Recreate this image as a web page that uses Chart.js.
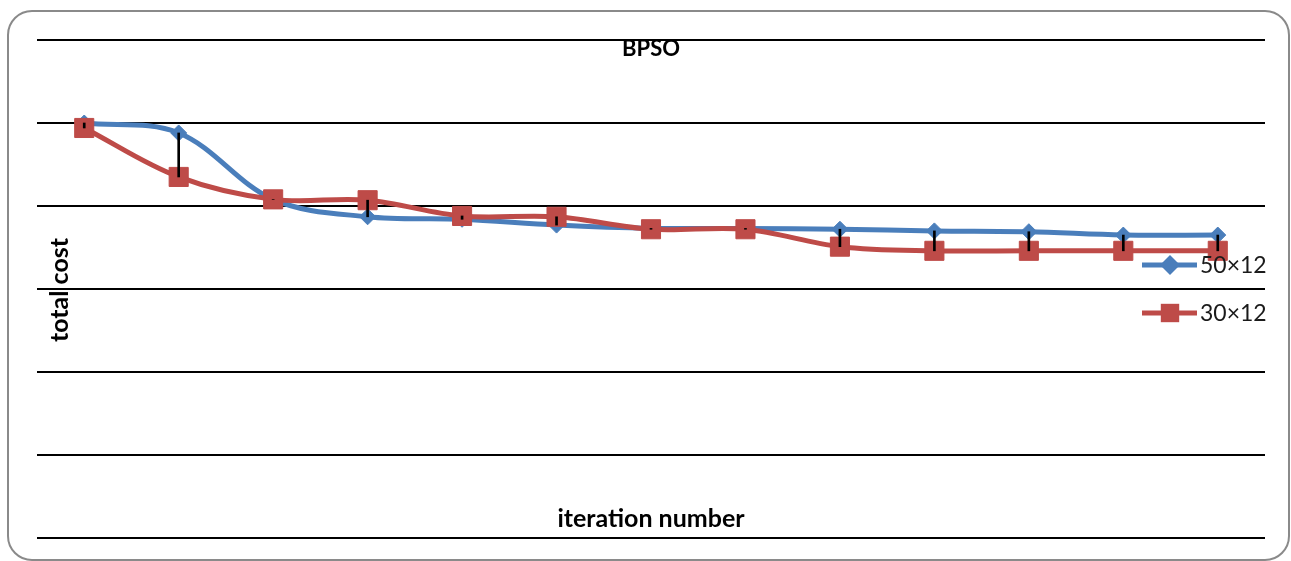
<!DOCTYPE html>
<html><head><meta charset="utf-8">
<script src="https://cdn.jsdelivr.net/npm/chart.js@4.4.0/dist/chart.umd.min.js"></script>
<style>html,body{margin:0;padding:0;background:#fff;overflow:hidden}#wrap{position:relative;width:1291px;height:561px}</style>
</head><body><div id="wrap"><canvas id="c" width="1291" height="561"></canvas></div>
<script>
const categories = ['1','2','3','4','5','6','7','8','9','10','11','12','13'];
const series50x12 = [5.00, 4.88, 4.08, 3.87, 3.84, 3.77, 3.73, 3.73, 3.72, 3.70, 3.69, 3.65, 3.65];
const series30x12 = [4.94, 4.35, 4.08, 4.07, 3.88, 3.87, 3.72, 3.72, 3.51, 3.46, 3.46, 3.46, 3.46];
const seriesNames = ['50×12', '30×12'];
const yMin = 0, yMax = 6, yStep = 1;
const chartTitle = 'BPSO';
const xTitle = 'iteration number';
const yTitle = 'total cost';

const BLUE = '#4A7EBB', RED = '#BE4B48';
const FONT = 'Lato, "Open Sans", sans-serif';

const highLow = series50x12.map((v, i) => [series30x12[i], v]);

function drawMarker(ctx, style, x, y, r, color) {
  ctx.save();
  ctx.fillStyle = color;
  ctx.beginPath();
  if (style === 'rectRot') {
    ctx.moveTo(x - r, y); ctx.lineTo(x, y - r); ctx.lineTo(x + r, y); ctx.lineTo(x, y + r);
  } else {
    const s = Math.SQRT1_2 * r;
    ctx.rect(x - s, y - s, 2 * s, 2 * s);
  }
  ctx.closePath();
  ctx.fill();
  ctx.restore();
}

const decor = {
  id: 'decor',
  beforeDraw(chart) {
    const ctx = chart.ctx;
    ctx.save();
    ctx.fillStyle = '#fff';
    ctx.fillRect(0, 0, chart.width, chart.height);
    ctx.strokeStyle = '#8a8a8a';
    ctx.lineWidth = 2;
    ctx.beginPath();
    ctx.roundRect(8, 11, 1281, 549, 24);
    ctx.stroke();
    ctx.restore();
  },
  afterDraw(chart) {
    const ctx = chart.ctx;
    const a = chart.chartArea;
    ctx.save();
    ctx.fillStyle = '#000';
    ctx.textAlign = 'center';
    ctx.textBaseline = 'alphabetic';
    ctx.font = 'bold 22px ' + FONT;
    ctx.fillText(chartTitle, 651, 56);
    ctx.font = 'bold 25px ' + FONT;
    ctx.fillText(xTitle, 651, 527);
    ctx.save();
    ctx.translate(68, 290);
    ctx.rotate(-Math.PI / 2);
    ctx.fillText(yTitle, 0, 0);
    ctx.restore();
    // legend
    const items = chart.data.datasets.filter(d => d.type === 'line');
    const ys = [265, 313];
    items.forEach((d, i) => {
      const y = ys[i];
      ctx.strokeStyle = d.borderColor;
      ctx.lineWidth = 5;
      ctx.beginPath();
      ctx.moveTo(1142, y); ctx.lineTo(1197, y);
      ctx.stroke();
      drawMarker(ctx, d.pointStyle, 1170, y, d.pointStyle === 'rectRot' ? 10 : 13, d.borderColor);
      ctx.fillStyle = '#1a1a1a';
      ctx.textAlign = 'left';
      ctx.textBaseline = 'middle';
      ctx.font = '23px ' + FONT;
      ctx.fillText(d.label, 1200, y + 1);
    });
    ctx.restore();
  }
};

new Chart(document.getElementById('c'), {
  type: 'line',
  data: {
    labels: categories,
    datasets: [
      { type: 'bar', label: 'hl', data: highLow, backgroundColor: '#000', barThickness: 2, grouped: false, order: 0 },
      { type: 'line', label: seriesNames[0], data: series50x12, borderColor: BLUE, backgroundColor: BLUE,
        borderWidth: 5, tension: 0.35, pointStyle: 'rectRot', pointRadius: 8, pointBorderWidth: 1,
        pointBackgroundColor: BLUE, pointBorderColor: BLUE, order: 2 },
      { type: 'line', label: seriesNames[1], data: series30x12, borderColor: RED, backgroundColor: RED,
        borderWidth: 5, tension: 0.35, pointStyle: 'rect', pointRadius: 13.5, pointBorderWidth: 1,
        pointBackgroundColor: RED, pointBorderColor: RED, order: 1 }
    ]
  },
  options: {
    responsive: false,
    animation: false,
    devicePixelRatio: 1,
    layout: { padding: { left: 37, right: 26, top: 40, bottom: 23 } },
    plugins: { legend: { display: false }, title: { display: false }, tooltip: { enabled: false } },
    scales: {
      x: { type: 'category', offset: true, display: false },
      y: {
        min: yMin, max: yMax,
        ticks: { display: false, stepSize: yStep },
        grid: { color: '#000', lineWidth: 2, drawTicks: false },
        border: { display: false },
        afterFit(s) { s.width = 0; }
      }
    }
  },
  plugins: [decor]
});
</script></body></html>
